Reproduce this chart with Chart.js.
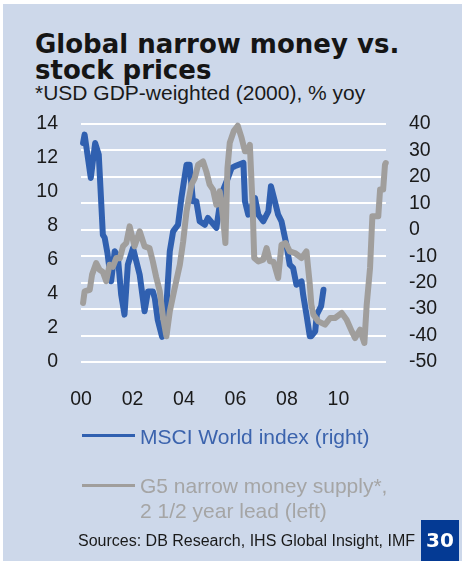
<!DOCTYPE html>
<html>
<head>
<meta charset="utf-8">
<script src="https://cdn.jsdelivr.net/npm/chart.js@4.4.0/dist/chart.umd.min.js"></script>
<style>
  html, body { margin: 0; padding: 0; background: #fff; }
  body { width: 462px; height: 563px; position: relative; overflow: hidden; font-family: "Liberation Sans", Arial, sans-serif; }
  #panel { position: absolute; left: 3px; top: 4px; right: 0; bottom: 2px; background: #cdd8ea; }
  #chart { position: absolute; left: 0; top: 0; }
  .txt { position: absolute; white-space: nowrap; }
  #title { left: 35px; top: 31px; font: bold 26px/26px "DejaVu Sans", sans-serif; color: #151515; }
  #subtitle { left: 35px; top: 81px; font-size: 21px; line-height: 24px; color: #1a1a1a; }
  .key { position: absolute; left: 82px; width: 53px; height: 3px; }
  #leg1 { left: 140px; top: 425px; font-size: 21px; line-height: 24px; color: #3b63ad; }
  #leg2 { left: 140px; top: 473px; font-size: 21px; line-height: 25px; color: #a5a5a5; }
  #source { left: 78px; top: 532px; font-size: 16px; line-height: 18px; color: #1a1a1a; }
  #page { position: absolute; left: 421px; top: 520px; width: 38px; height: 41px; background: #043a94;
          color: #fff; font: bold 20px/41px "DejaVu Sans", sans-serif; text-align: center; }
</style>
</head>
<body>
<div id="panel"></div>
<div class="txt" id="title">Global narrow money vs.<br>stock prices</div>
<div class="txt" id="subtitle">*USD GDP-weighted (2000), % yoy</div>
<canvas id="chart" width="462" height="563"></canvas>
<div class="key" style="top:433.5px;background:#3060b0"></div>
<div class="txt" id="leg1">MSCI World index (right)</div>
<div class="key" style="top:483.5px;background:#a09e9c"></div>
<div class="txt" id="leg2">G5 narrow money supply*,<br>2 1/2 year lead (left)</div>
<div class="txt" id="source">Sources: DB Research, IHS Global Insight, IMF</div>
<div id="page">30</div>
<script>
// MSCI World index, % yoy (right axis)
const msciYears = [2000.08, 2000.14, 2000.38, 2000.55, 2000.69, 2000.85, 2000.92, 2001.03, 2001.17, 2001.31,
  2001.43, 2001.56, 2001.69, 2001.82, 2002.02, 2002.28, 2002.47, 2002.60, 2002.79, 2002.87,
  2002.98, 2003.15, 2003.32, 2003.45, 2003.58, 2003.77, 2003.90, 2004.10, 2004.22, 2004.35,
  2004.48, 2004.61, 2004.81, 2004.93, 2005.26, 2005.45, 2005.71, 2005.85, 2005.97, 2006.31,
  2006.37, 2006.50, 2006.76, 2006.89, 2007.08, 2007.28, 2007.38, 2007.53, 2007.66, 2007.79,
  2007.98, 2008.11, 2008.24, 2008.37, 2008.57, 2008.63, 2008.76, 2008.89, 2008.94, 2009.10,
  2009.16, 2009.33, 2009.42];
const msciValues = [32.8, 36, 19.6, 32.8, 28.4, -1.9, -3, -9, -19.5, -8.1,
  -10, -24.5, -32.1, -13.2, -6.9, -17, -30.8, -23.3, -23.3, -26,
  -34, -40.5, -28.3, -8.1, -0.6, 1.9, 12, 24.6, 24.6, 10.8,
  10.8, 3.2, 1.9, 4.5, 0.7, 13.3, 19.6, 23.4, 24, 25.3,
  10.8, 5.7, 12, 5.7, 3.2, 7, 16.5, 10.8, 5.7, 3.2,
  -5.6, -13.2, -14.4, -20.8, -19.5, -24.5, -32.1, -40.3, -40.3, -38.4,
  -32.1, -28.9, -22.7];

// G5 narrow money supply, % yoy, 2.5y lead (left axis)
const moneyYears = [2000.08, 2000.14, 2000.34, 2000.43, 2000.59, 2000.72, 2000.85, 2000.98, 2001.11, 2001.24,
  2001.37, 2001.51, 2001.63, 2001.76, 2001.89, 2002.08, 2002.28, 2002.47, 2002.66, 2002.79,
  2002.92, 2003.06, 2003.19, 2003.32, 2003.45, 2003.64, 2003.84, 2003.97, 2004.10, 2004.29,
  2004.42, 2004.55, 2004.74, 2004.87, 2005.00, 2005.13, 2005.26, 2005.39, 2005.52, 2005.61,
  2005.69, 2005.78, 2005.94, 2006.09, 2006.24, 2006.37, 2006.47, 2006.56, 2006.66, 2006.73,
  2006.89, 2007.08, 2007.21, 2007.34, 2007.48, 2007.66, 2007.79, 2007.95, 2008.11, 2008.31,
  2008.57, 2008.76, 2008.89, 2008.95, 2009.03, 2009.22, 2009.48, 2009.68, 2009.87, 2010.13,
  2010.32, 2010.52, 2010.65, 2010.84, 2011.01, 2011.10, 2011.23, 2011.32, 2011.55, 2011.62,
  2011.74, 2011.81, 2011.84];
const moneyValues = [3.47, 4.16, 4.25, 5.14, 5.82, 5.43, 5.3, 4.75, 5.72, 5.6,
  6.12, 6.1, 6.8, 7.0, 7.98, 6.8, 7.69, 6.8, 6.7, 5.92,
  5.0, 4.16, 2.59, 1.51, 2.98, 4.35, 5.72, 7.1, 8.86, 10.43,
  10.82, 11.6, 11.8, 11.2, 10.43, 10.14, 9.25, 10.04, 8.47, 7.0,
  11.4, 12.9, 13.6, 13.9, 13.18, 12.39, 12.4, 12.78, 9.45, 6.12,
  5.92, 6.02, 6.7, 5.92, 5.9, 4.94, 6.9, 7.0, 6.51, 6.41,
  6.12, 6.51, 4.55, 3.37, 2.78, 2.39, 2.2, 2.59, 2.59, 2.88,
  2.49, 1.8, 1.41, 1.9, 1.12, 3.37, 5.53, 8.57, 8.57, 10.14,
  10.14, 11.6, 11.7];

const xTicks = [2000, 2002, 2004, 2006, 2008, 2010];
const xTickLabels = ['00', '02', '04', '06', '08', '10'];
const leftTicks = [0, 2, 4, 6, 8, 10, 12, 14];
const rightTicks = [-50, -40, -30, -20, -10, 0, 10, 20, 30, 40];

const tickFont = { family: '"Liberation Sans", Arial, sans-serif', size: 19.5 };
const tickColor = '#1a1a1a';
const toPoints = (xs, ys) => xs.map((x, i) => ({ x: x, y: ys[i] }));
const setTicks = (list) => (scale) => { scale.ticks = list.map(v => ({ value: v })); };

new Chart(document.getElementById('chart'), {
  type: 'line',
  data: {
    datasets: [{
      label: 'G5 narrow money supply*, 2 1/2 year lead (left)',
      data: toPoints(moneyYears, moneyValues),
      yAxisID: 'y',
      borderColor: '#a09e9c',
      borderWidth: 6
    }, {
      label: 'MSCI World index (right)',
      data: toPoints(msciYears, msciValues),
      yAxisID: 'y1',
      borderColor: '#3060b0',
      borderWidth: 6
    }]
  },
  options: {
    responsive: false,
    animation: false,
    clip: false,
    elements: {
      point: { radius: 0 },
      line: { tension: 0, borderCapStyle: 'round', borderJoinStyle: 'round', fill: false }
    },
    layout: { padding: { top: 124, bottom: 151, left: 0, right: 0 } },
    plugins: { legend: { display: false }, tooltip: { enabled: false } },
    scales: {
      x: {
        type: 'linear', min: 2000, max: 2011.85,
        grid: { display: false }, border: { display: false },
        afterBuildTicks: setTicks(xTicks),
        afterFit: (s) => { s.height = 50; },
        ticks: {
          autoSkip: false, maxRotation: 0, padding: 18, font: tickFont, color: tickColor,
          callback: (v) => xTickLabels[xTicks.indexOf(v)]
        }
      },
      y: {
        position: 'left', min: 0, max: 14,
        grid: { display: false, drawTicks: false }, border: { display: false },
        afterBuildTicks: setTicks(leftTicks),
        afterFit: (s) => { s.width = 81; },
        ticks: { padding: 23, font: tickFont, color: tickColor }
      },
      y1: {
        position: 'right', min: -50, max: 40,
        grid: { color: '#ffffff', lineWidth: 2, drawTicks: false }, border: { display: false },
        afterBuildTicks: setTicks(rightTicks),
        afterFit: (s) => { s.width = 76; },
        ticks: { padding: 23, font: tickFont, color: tickColor }
      }
    }
  }
});
</script>
</body>
</html>
